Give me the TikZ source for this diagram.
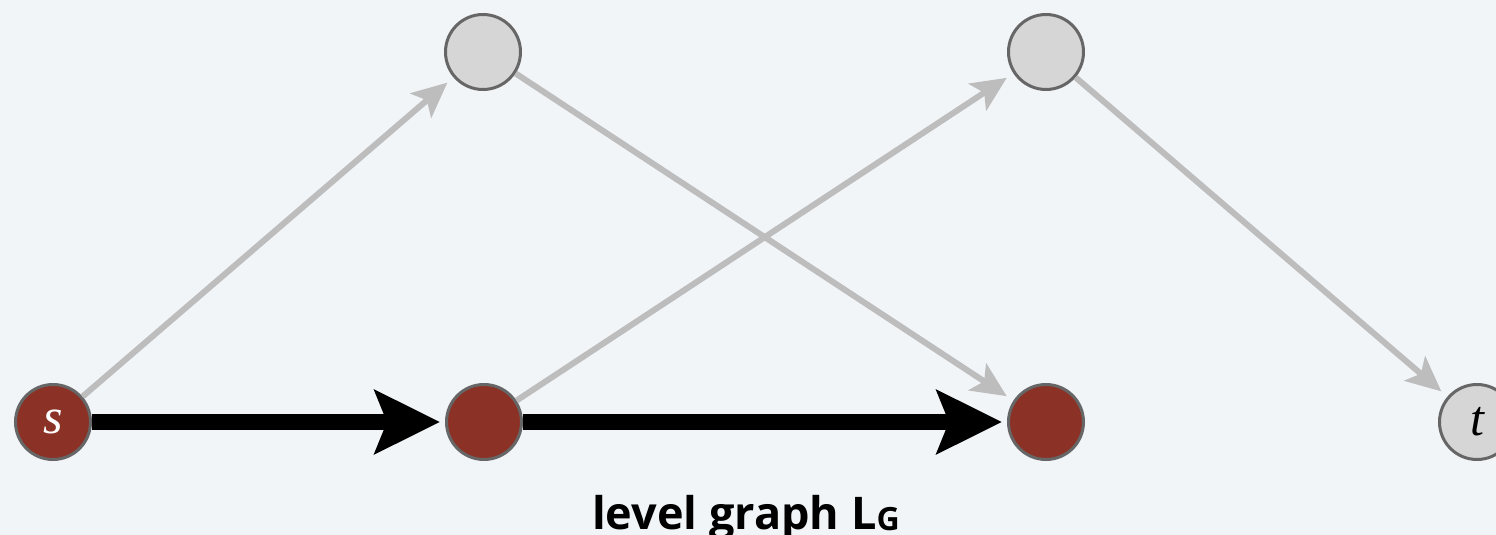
\documentclass[tikz,border=0pt]{standalone}
\usepackage{fontspec}
\setmainfont{Liberation Serif}
\newfontfamily\capfont{Open Sans}
\usetikzlibrary{arrows.meta,positioning}
\definecolor{Paper}{HTML}{F2F5F8}
\definecolor{Brick}{HTML}{8B3126}
\definecolor{Ash}{HTML}{D6D6D6}
\definecolor{Rim}{HTML}{666666}
\definecolor{Wire}{HTML}{BDBDBD}

\begin{document}
\begin{tikzpicture}[x=0.5pt,y=-0.5pt,
  vert/.style={circle,draw=Rim,line width=1.5pt,minimum size=37.5pt,inner sep=0pt,
    font=\itshape\fontsize{25}{25}\selectfont},
  used/.style={vert,fill=Brick,text=white},
  idle/.style={vert,fill=Ash},
  faint/.style={Wire,line width=3pt,shorten >=4pt,-{Stealth[length=17.5pt,width=16pt,inset=4pt]}},
  heavy/.style={black,line width=8pt,shorten >=2.5pt,-{Stealth[length=32.5pt,width=31.5pt,inset=6pt]}}]
  \fill[Paper] (0,0) rectangle (1496,535);
  \useasboundingbox (0,0) rectangle (1496,535);
  % bottom level
  \node[used] (s) at (53,422) {s};
  \node[used] (m) at (484,422) {};
  \node[used] (r) at (1046,422) {};
  \node[idle] (t) at (1477,422) {t};
  % top level
  \node[idle] (a) at (483,52) {};
  \node[idle] (b) at (1046,52) {};
  \foreach \u/\v in {s/a,a/r,m/b,b/t}
    \draw[faint] (\u) -- (\v);
  \draw[heavy] (s) -- (m);
  \draw[heavy] (m) -- (r);
  \node[font=\capfont\bfseries\fontsize{22.5}{22.5}\selectfont,anchor=base] (cap) at (746,529)
    {level graph L\raisebox{-0.5pt}{\fontsize{16}{16}\selectfont G}};
\end{tikzpicture}
\end{document}
